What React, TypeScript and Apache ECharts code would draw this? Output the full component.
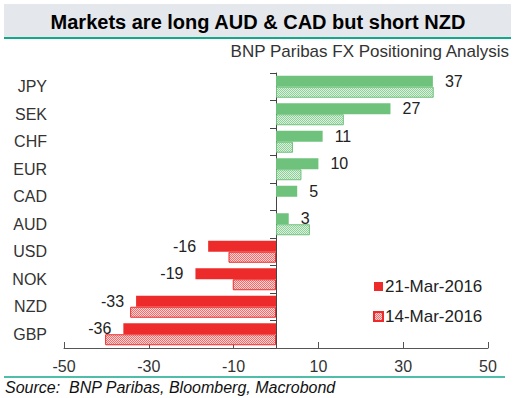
import React, { useEffect, useRef } from "react";
import * as echarts from "echarts";

const categories = ["JPY", "SEK", "CHF", "EUR", "CAD", "AUD", "USD", "NOK", "NZD", "GBP"];
const current = [37, 27, 11, 10, 5, 3, -16, -19, -33, -36];
const previous = [37.2, 16, 4, 6, 0, 8, -11.2, -10.2, -34.4, -40.3];
const seriesNames = ["21-Mar-2016", "14-Mar-2016"];
const xTicks = { min: -50, max: 50, interval: 20 };

const GREEN = "#6fc27b";
const RED = "#ee2b2b";
const FONT = "Liberation Sans, Arial, sans-serif";

function checker(a: string, b: string) {
  const c = document.createElement("canvas");
  c.width = 2;
  c.height = 2;
  const ctx = c.getContext("2d")!;
  ctx.fillStyle = b;
  ctx.fillRect(0, 0, 2, 2);
  ctx.fillStyle = a;
  ctx.fillRect(0, 0, 1, 1);
  ctx.fillRect(1, 1, 1, 1);
  return { image: c, repeat: "repeat", imageWidth: 2, imageHeight: 2 } as any;
}

export default function App() {
  const ref = useRef<HTMLDivElement>(null);
  useEffect(() => {
    if (!ref.current) return;
    const chart = echarts.init(ref.current, null, { renderer: "svg" });
    const greenPat = checker("#8fd09a", "#dcf0de");
    const redPat = checker("#f26d6d", "#fcd5d5");

    chart.setOption({
      animation: false,
      backgroundColor: "#ffffff",
      textStyle: { fontFamily: FONT },
      graphic: [
        { type: "rect", shape: { x: 4, y: 4, width: 507, height: 34 }, style: { fill: "#e4e7eb" }, silent: true },
        { type: "line", shape: { x1: 4, y1: 38, x2: 511, y2: 38 }, style: { stroke: "#13a88b", lineWidth: 2 } },
        {
          type: "text", x: 258, y: 22,
          style: { text: "Markets are long AUD & CAD but short NZD", font: `bold 20px ${FONT}`, fill: "#000", align: "center", verticalAlign: "middle" },
        },
        {
          type: "text", x: 509, y: 51,
          style: { text: "BNP Paribas FX Positioning Analysis", font: `17px ${FONT}`, fill: "#333", align: "right", verticalAlign: "middle" },
        },
        { type: "line", shape: { x1: 4, y1: 377, x2: 505, y2: 377 }, style: { stroke: "#13a88b", lineWidth: 1.5 } },
        {
          type: "text", x: 5, y: 387,
          style: { text: "Source:  BNP Paribas, Bloomberg, Macrobond", font: `italic 16px ${FONT}`, fill: "#111", align: "left", verticalAlign: "middle" },
        },
      ],
      legend: {
        orient: "vertical",
        left: 368,
        top: 273,
        itemWidth: 9,
        itemHeight: 9,
        itemGap: 13,
        icon: "rect",
        textStyle: { fontSize: 17, color: "#222", fontFamily: FONT, padding: [0, 0, 0, -3] },
        data: seriesNames,
      },
      grid: { left: 64, right: 26, top: 73, bottom: 50, containLabel: false, outerBoundsMode: "none" },
      xAxis: {
        type: "value",
        min: xTicks.min,
        max: xTicks.max,
        interval: xTicks.interval,
        splitLine: { show: false },
        axisLine: { show: true, lineStyle: { color: "#555" } },
        axisTick: { show: true, inside: true, length: 6, lineStyle: { color: "#555" } },
        axisLabel: { fontSize: 16, color: "#333", margin: 10, fontFamily: FONT },
      },
      yAxis: {
        type: "category",
        data: categories,
        inverse: true,
        axisLine: { show: true, onZero: true, lineStyle: { color: "#444" } },
        axisTick: { show: true, length: 6, lineStyle: { color: "#444" } },
        axisLabel: { fontSize: 16, color: "#333", margin: 17, align: "right", fontFamily: FONT },
      },
      series: [
        {
          name: seriesNames[0],
          type: "bar",
          barWidth: 11,
          barGap: "0%",
          itemStyle: { color: RED },
          data: current.map((v) => ({
            value: v,
            itemStyle: { color: v >= 0 ? GREEN : RED },
            label: { position: v >= 0 ? "right" : "left" },
          })),
          label: {
            show: true,
            distance: 12,
            fontSize: 16,
            color: "#222",
            fontFamily: FONT,
            formatter: (p: any) => String(Math.round(p.value)),
          },
        },
        {
          name: seriesNames[1],
          type: "bar",
          barWidth: 11,
          itemStyle: { color: redPat, borderColor: RED, borderWidth: 1 },
          data: previous.map((v) => ({
            value: v,
            itemStyle: v === 0
              ? { color: "transparent", borderWidth: 0 }
              : v > 0
              ? { color: greenPat, borderColor: GREEN, borderWidth: 1 }
              : { color: redPat, borderColor: RED, borderWidth: 1 },
          })),
        },
      ],
    });
    return () => chart.dispose();
  }, []);
  return <div ref={ref} style={{ width: 514, height: 398, position: "absolute", left: 0, top: 0 }} />;
}
